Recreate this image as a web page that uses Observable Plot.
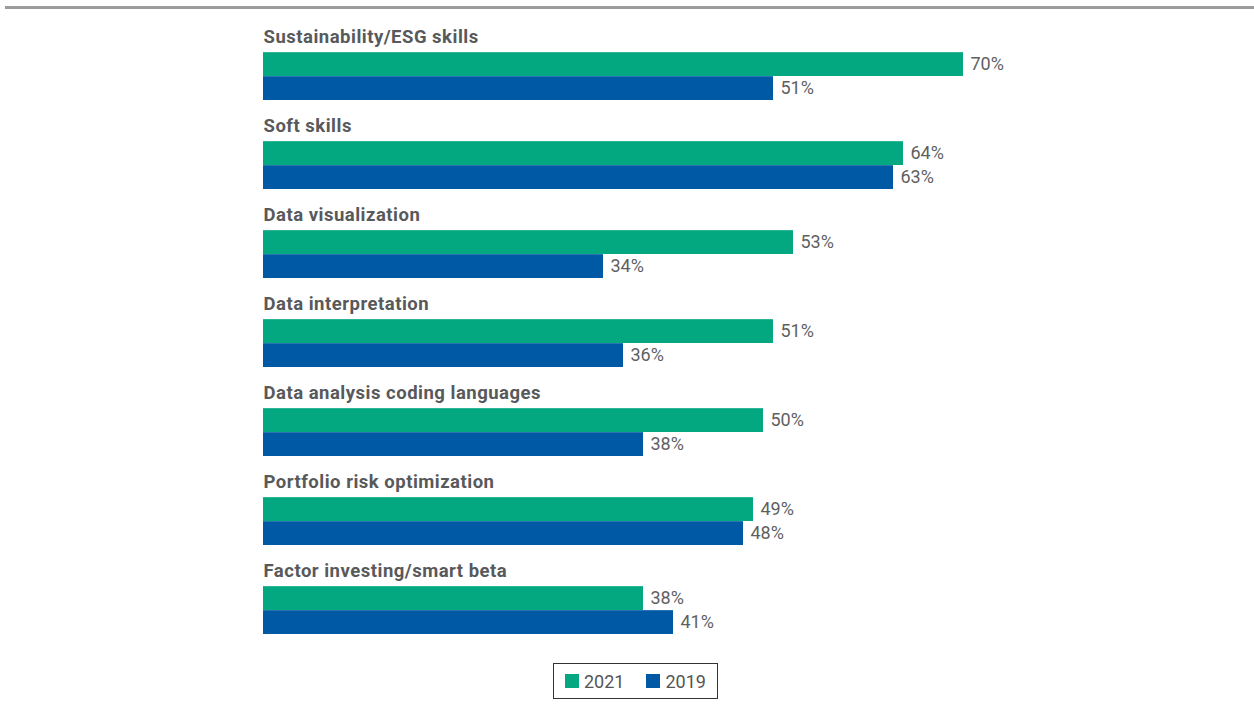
<!DOCTYPE html>
<html>
<head>
<meta charset="utf-8">
<script src="https://cdn.jsdelivr.net/npm/d3@7"></script>
<script src="https://cdn.jsdelivr.net/npm/@observablehq/plot@0.6"></script>
<style>
  html, body { margin: 0; padding: 0; background: #fff; overflow: hidden; }
  #wrap { position: relative; width: 1254px; height: 709px; }
  #topline { position: absolute; top: 6px; left: 5px; right: 0; height: 3px; background: #9b9b9b; }
  #chart { position: absolute; top: 0; left: 0; }
  #chart g[font-weight="700"] text { letter-spacing: 0.5px; }
  #legend { position: absolute; left: 553px; top: 663px; width: 163px; height: 34px; border: 1px solid #333;
            box-sizing: content-box; display: flex; align-items: center; padding-left: 0; }
  #legend .lg-swatches { font-family: Roboto, sans-serif !important; font-size: 18px !important; color: #555 !important;
            margin: 0 0 0 11px !important; min-height: 0 !important; display: flex !important; flex-wrap: nowrap !important;
            align-items: center; white-space: nowrap; }
  #legend .lg-swatch { margin-right: 22px !important; display: inline-flex; align-items: center; }
  #legend .lg-swatch:last-child { margin-right: 0 !important; }
  #legend .lg-swatch > svg { margin-right: 5px !important; }
</style>
</head>
<body>
<div id="wrap">
  <div id="topline"></div>
  <div id="chart"></div>
  <div id="legend"></div>
</div>
<script>
const categories = [
  "Sustainability/ESG skills",
  "Soft skills",
  "Data visualization",
  "Data interpretation",
  "Data analysis coding languages",
  "Portfolio risk optimization",
  "Factor investing/smart beta"
];
const years = ["2021", "2019"];
const values2021 = [70, 64, 53, 51, 50, 49, 38];
const values2019 = [51, 63, 34, 36, 38, 48, 41];
const colors = ["#03a880", "#0059a5"];

const rows = categories.flatMap((c, i) => [
  {category: c, year: "2021", value: values2021[i]},
  {category: c, year: "2019", value: values2019[i]}
]);
const rows2021 = rows.filter(d => d.year === "2021");
const rows2019 = rows.filter(d => d.year === "2019");

const height = 640, marginTop = 10.83, marginBottom = 5;
const band = (height - marginTop - marginBottom) / categories.length;
const barH = 24;
const gap = band - 2 * barH;

const chart = Plot.plot({
  width: 1254,
  height,
  marginLeft: 263,
  marginRight: 1,
  marginTop,
  marginBottom,
  style: {fontFamily: "Roboto, sans-serif", background: "transparent"},
  x: {domain: [0, 99], axis: null},
  y: {domain: categories, axis: null, padding: 0},
  color: {domain: years, range: colors},
  marks: [
    Plot.barX(rows2021, {x: "value", y: "category", fill: "year", insetTop: gap, insetBottom: barH}),
    Plot.barX(rows2019, {x: "value", y: "category", fill: "year", insetTop: gap + barH, insetBottom: 0}),
    Plot.text(rows2021, {x: "value", y: "category", text: d => d.value + "%", dx: 7,
      dy: gap + barH / 2 - band / 2, textAnchor: "start", fontSize: 18, fill: "#5f5f5f"}),
    Plot.text(rows2019, {x: "value", y: "category", text: d => d.value + "%", dx: 7,
      dy: gap + barH * 1.5 - band / 2, textAnchor: "start", fontSize: 18, fill: "#5f5f5f"}),
    Plot.text(categories, {y: d => d, text: d => d, frameAnchor: "left", textAnchor: "start",
      lineAnchor: "bottom", dy: -(band / 2) + 31.9, fontWeight: 700, fontSize: 18.5, fill: "#58595b"})
  ]
});
document.getElementById("chart").appendChild(chart);

const legend = Plot.legend({
  color: {domain: years, range: colors},
  legend: "swatches",
  className: "lg",
  swatchSize: 14
});
document.getElementById("legend").appendChild(legend);
</script>
</body>
</html>
